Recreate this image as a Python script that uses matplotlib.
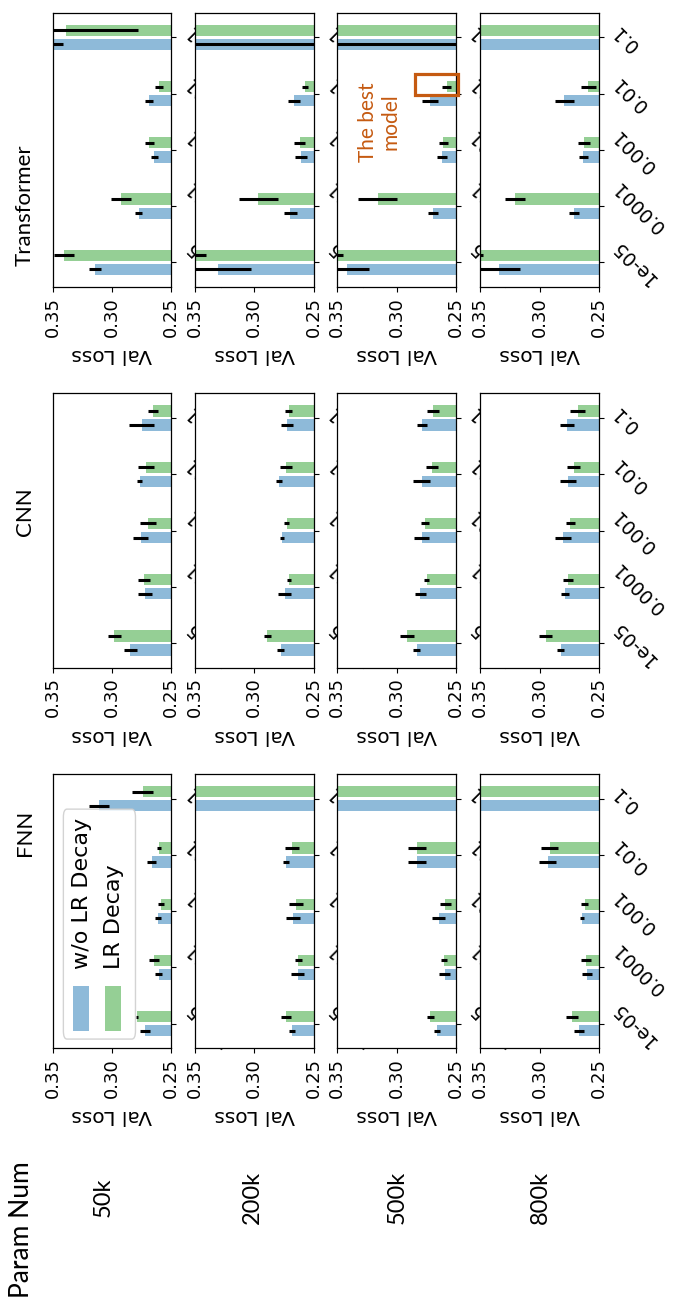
import numpy as np
import matplotlib
matplotlib.use("Agg")
import matplotlib.pyplot as plt
from matplotlib.patches import Rectangle, FancyBboxPatch

# ---- data -------------------------------------------------------------
lrs = ["1e-05", "0.0001", "0.001", "0.01", "0.1"]
params = ["50k", "200k", "500k", "800k"]
models = ["FNN", "CNN", "Transformer"]

# validation loss without LR decay (per param size, lr order as in `lrs`)
fnn_plain = [[0.2722, 0.2605, 0.2613, 0.2664, 0.3109],
             [0.2680, 0.2634, 0.2672, 0.2732, 0.4200],
             [0.2660, 0.2596, 0.2644, 0.2828, 0.4200],
             [0.2668, 0.2603, 0.2645, 0.2933, 0.4200]]
fnn_plain_err = [[0.0040, 0.0030, 0.0028, 0.0037, 0.0085],
                 [0.0027, 0.0055, 0.0060, 0.0023, 0.0100],
                 [0.0025, 0.0045, 0.0056, 0.0074, 0.0100],
                 [0.0042, 0.0042, 0.0018, 0.0069, 0.0100]]
fnn_decay = [[0.2788, 0.2646, 0.2587, 0.2600, 0.2741],
             [0.2734, 0.2628, 0.2650, 0.2681, 0.4200],
             [0.2717, 0.2602, 0.2590, 0.2828, 0.4200],
             [0.2728, 0.2606, 0.2621, 0.2916, 0.4200]]
fnn_decay_err = [[0.0010, 0.0040, 0.0025, 0.0017, 0.0089],
                 [0.0041, 0.0031, 0.0059, 0.0060, 0.0100],
                 [0.0029, 0.0025, 0.0045, 0.0074, 0.0100],
                 [0.0050, 0.0042, 0.0032, 0.0071, 0.0100]]

cnn_plain = [[0.2848, 0.2723, 0.2758, 0.2767, 0.2750],
             [0.2777, 0.2745, 0.2764, 0.2792, 0.2725],
             [0.2831, 0.2800, 0.2790, 0.2790, 0.2783],
             [0.2822, 0.2784, 0.2803, 0.2760, 0.2768]]
cnn_plain_err = [[0.0055, 0.0059, 0.0062, 0.0024, 0.0106],
                 [0.0031, 0.0051, 0.0018, 0.0027, 0.0048],
                 [0.0027, 0.0046, 0.0063, 0.0071, 0.0042],
                 [0.0031, 0.0034, 0.0064, 0.0071, 0.0057]]
cnn_decay = [[0.2979, 0.2730, 0.2698, 0.2712, 0.2657],
             [0.2890, 0.2708, 0.2726, 0.2732, 0.2711],
             [0.2910, 0.2745, 0.2762, 0.2701, 0.2695],
             [0.2949, 0.2760, 0.2740, 0.2714, 0.2677]]
cnn_decay_err = [[0.0058, 0.0052, 0.0066, 0.0069, 0.0041],
                 [0.0031, 0.0020, 0.0020, 0.0054, 0.0028],
                 [0.0059, 0.0021, 0.0031, 0.0048, 0.0052],
                 [0.0055, 0.0042, 0.0038, 0.0056, 0.0063]]

tf_plain = [[0.3144, 0.2773, 0.2642, 0.2690, 0.3600],
            [0.3303, 0.2697, 0.2606, 0.2665, 0.4200],
            [0.3422, 0.2696, 0.2619, 0.2718, 0.4200],
            [0.3346, 0.2710, 0.2630, 0.2793, 0.4200]]
tf_plain_err = [[0.0051, 0.0030, 0.0028, 0.0034, 0.0190],
                [0.0273, 0.0056, 0.0049, 0.0054, 0.3000],
                [0.0191, 0.0043, 0.0043, 0.0067, 0.3000],
                [0.0179, 0.0039, 0.0034, 0.0081, 0.0100]]
tf_decay = [[0.3404, 0.2925, 0.2684, 0.2606, 0.3387],
            [0.3550, 0.2966, 0.2617, 0.2575, 0.4200],
            [0.3600, 0.3158, 0.2605, 0.2578, 0.4200],
            [0.3600, 0.3208, 0.2627, 0.2591, 0.4200]]
tf_decay_err = [[0.0086, 0.0083, 0.0040, 0.0035, 0.0607],
                [0.0143, 0.0165, 0.0048, 0.0027, 0.0100],
                [0.0150, 0.0164, 0.0035, 0.0038, 0.0100],
                [0.0120, 0.0083, 0.0050, 0.0064, 0.0100]]

results = {
    "FNN": (fnn_plain, fnn_plain_err, fnn_decay, fnn_decay_err),
    "CNN": (cnn_plain, cnn_plain_err, cnn_decay, cnn_decay_err),
    "Transformer": (tf_plain, tf_plain_err, tf_decay, tf_decay_err),
}

loss_ticks = [0.35, 0.30, 0.25]
loss_range = (0.35, 0.25)

# ---- figure -----------------------------------------------------------
W, H = 673, 1310
fig = plt.figure(figsize=(W / 100, H / 100), dpi=100)

col_left = [52.7, 195.0, 337.3, 480.3]
row_top = {"FNN": 774.0, "CNN": 393.3, "Transformer": 12.7}
ax_w, ax_h = 118.6, 274.4

c_plain = "tab:blue"
c_decay = "tab:green"
orange = "#c55a11"
head_font = ["Lato", "DejaVu Sans"]
bar_h = 0.2
off = 0.125


def add_px_axes(left, top, w, h):
    return fig.add_axes([left / W, 1 - (top + h) / H, w / W, h / H])


axes = {}
ypos = np.arange(len(lrs))
for m in models:
    plain, plain_err, decay, decay_err = results[m]
    for j, p in enumerate(params):
        ax = add_px_axes(col_left[j], row_top[m], ax_w, ax_h)
        axes[(m, p)] = ax
        ax.barh(ypos - off, plain[j], height=bar_h, color=c_plain, alpha=0.5,
                label="w/o LR Decay")
        ax.barh(ypos + off, decay[j], height=bar_h, color=c_decay, alpha=0.5,
                label="LR Decay")
        ax.errorbar(plain[j], ypos - off, xerr=plain_err[j], fmt="none",
                    ecolor="black", elinewidth=2.2, capsize=0)
        ax.errorbar(decay[j], ypos + off, xerr=decay_err[j], fmt="none",
                    ecolor="black", elinewidth=2.2, capsize=0)
        ax.set_xlim(*loss_range)
        ax.set_ylim(-0.44, len(lrs) - 1 + 0.44)
        ax.set_xticks(loss_ticks)
        ax.set_xticklabels([f"{t:.2f}" for t in loss_ticks], rotation=90,
                           fontsize=13)
        ax.set_xlabel("Val Loss", rotation=180, fontsize=14.5, labelpad=6)
        ax.yaxis.tick_right()
        ax.set_yticks(ypos)
        ax.set_yticklabels(lrs, rotation=135, fontsize=13.5, va="center",
                           ha="left")
        for s in ax.spines.values():
            s.set_linewidth(0.9)

# ---- legend (drawn by hand so it can sit sideways) --------------------
lax = axes[("FNN", "50k")]
lax.add_patch(FancyBboxPatch((0.09, 0.034), 0.608, 0.838,
                             boxstyle="round,pad=0,rounding_size=0.03",
                             transform=lax.transAxes, facecolor="white",
                             edgecolor="0.8", alpha=0.85, zorder=5))
lax.add_patch(Rectangle((0.175, 0.065), 0.127, 0.161, transform=lax.transAxes,
                        facecolor=c_plain, alpha=0.5, zorder=6))
lax.add_patch(Rectangle((0.443, 0.065), 0.136, 0.161, transform=lax.transAxes,
                        facecolor=c_decay, alpha=0.5, zorder=6))
lax.text(0.246, 0.29, "w/o LR Decay", rotation=90, transform=lax.transAxes,
         ha="center", va="bottom", fontsize=16, zorder=7)
lax.text(0.514, 0.29, "LR Decay", rotation=90, transform=lax.transAxes,
         ha="center", va="bottom", fontsize=16, zorder=7)

# ---- best model marker ------------------------------------------------
bax = axes[("Transformer", "500k")]
bax.add_patch(Rectangle((0.2483, 2.975), 0.0364, 0.38, fill=False,
                        edgecolor=orange, linewidth=2.3, clip_on=False,
                        zorder=8))
bax.text((379.5 - 337.3) / ax_w,
         (row_top["Transformer"] + ax_h - 121.7) / ax_h,
         "The best\nmodel", rotation=90, transform=bax.transAxes,
         ha="center", va="center", multialignment="center",
         color=orange, fontsize=15, family=head_font, linespacing=1.15)

# ---- row / column headers ---------------------------------------------
header_y = {"FNN": 833, "CNN": 512, "Transformer": 205}
for m in models:
    fig.text(25 / W, 1 - header_y[m] / H, m, rotation=90, ha="center",
             va="center", fontsize=16, family=head_font)

fig.text(22 / W, 1 - 1230 / H, "Param Num", rotation=90, ha="center",
         va="center", fontsize=19, family=head_font)
param_x = [103, 252, 397, 540]
for x, p in zip(param_x, params):
    fig.text(x / W, 1 - 1197 / H, p, rotation=90, ha="center", va="center",
             fontsize=17, family=head_font)

fig.savefig("out.png", dpi=100)
